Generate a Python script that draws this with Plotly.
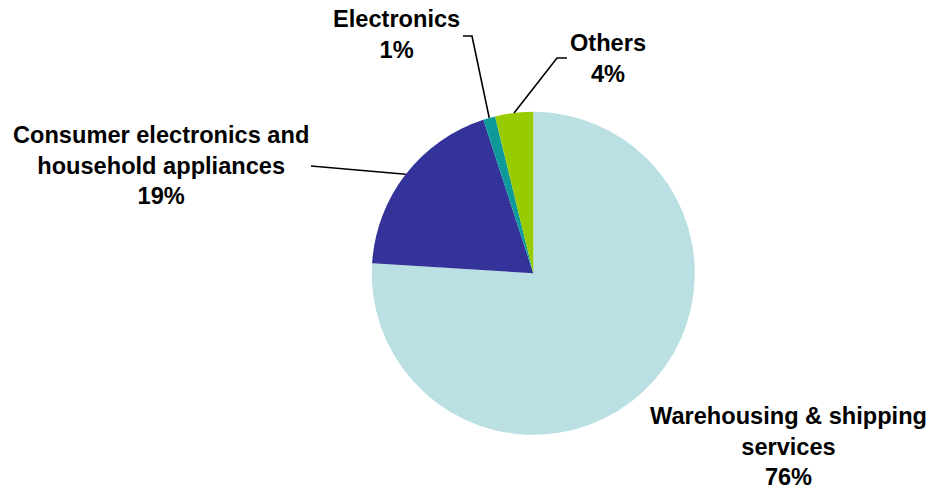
import math
import plotly.graph_objects as go

# Revenue share by business segment
labels = [
    "Warehousing & shipping<br>services",
    "Consumer electronics and<br>household appliances",
    "Electronics",
    "Others",
]
values = [76.0, 19.0, 1.2, 3.8]
colors = ["#BAE0E3", "#333399", "#0E9A9A", "#99CC00"]

W, H = 931, 489
CX, CY, R = 533.3, 273.3, 161.5  # pie centre and radius in pixels

# Label block centres (pixels) and leader-line waypoints (pixels, label side)
label_pos = [(788, 446), (161, 165), (396, 35), (608, 58)]
leader_pts = [None, [(311, 166)], [(463, 36), (472, 36)], [(567, 58), (557, 58)]]


def px(x, y):
    return x / W, 1 - y / H


fig = go.Figure(
    go.Pie(
        labels=labels,
        values=values,
        marker=dict(colors=colors, line=dict(width=0)),
        sort=False,
        direction="clockwise",
        rotation=0,
        textinfo="none",
        hoverinfo="label+percent",
        domain=dict(
            x=[(CX - R) / W, (CX + R) / W],
            y=[1 - (CY + R) / H, 1 - (CY - R) / H],
        ),
        showlegend=False,
    )
)

total = sum(values)
annotations = []
shapes = []
cum = 0.0
for lab, v, pos, pts in zip(labels, values, label_pos, leader_pts):
    mid = (cum + v / 2) / total * 2 * math.pi
    cum += v
    pct = round(v / total * 100)
    ax, ay = px(*pos)
    annotations.append(
        dict(
            x=ax, y=ay, xref="paper", yref="paper",
            text=f"<b>{lab}<br>{pct}%</b>",
            showarrow=False, xanchor="center", yanchor="middle",
            align="center",
            font=dict(family="Arial, Liberation Sans, sans-serif", size=23.6, color="#000000"),
        )
    )
    if pts:
        ex = CX + R * math.sin(mid)
        ey = CY - R * math.cos(mid)
        path_pts = [px(*p) for p in pts] + [px(ex, ey)]
        d = "M " + " L ".join(f"{x:.5f},{y:.5f}" for x, y in path_pts)
        shapes.append(
            dict(type="path", path=d, xref="paper", yref="paper",
                 line=dict(color="#000000", width=1.6))
        )

fig.update_layout(
    width=W, height=H,
    margin=dict(l=0, r=0, t=0, b=0),
    paper_bgcolor="#FFFFFF",
    plot_bgcolor="#FFFFFF",
    annotations=annotations,
    shapes=shapes,
)

fig.write_html("out.html")
